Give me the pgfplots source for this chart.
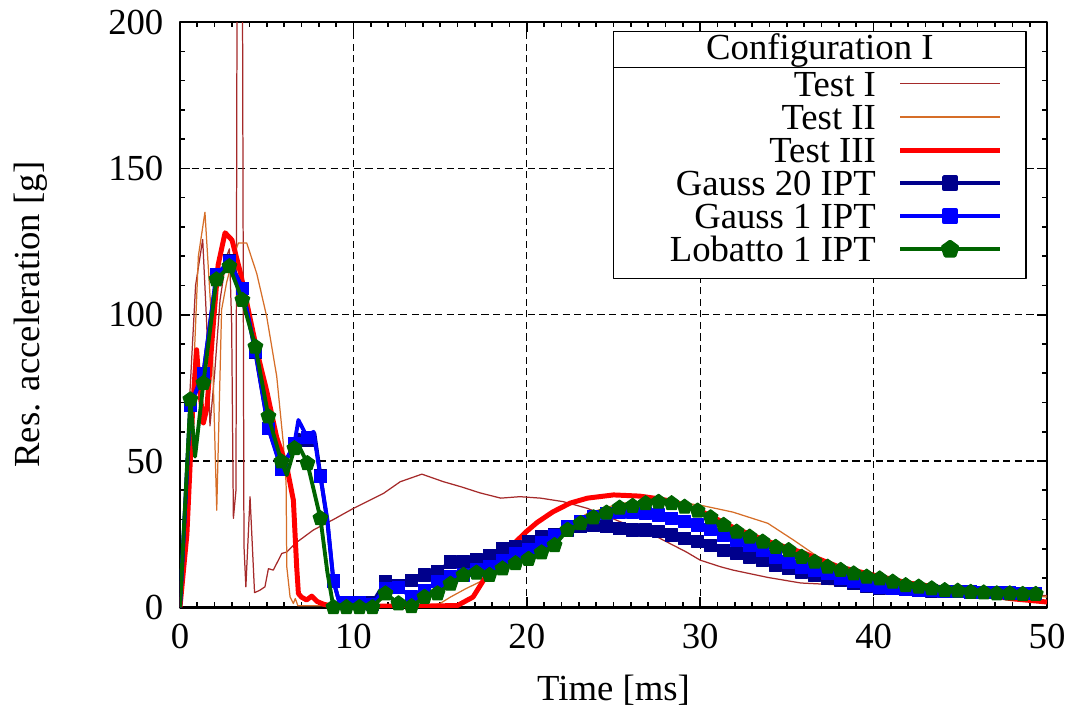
\documentclass[border=0pt]{standalone}
\usepackage{fontspec}
\setmainfont{Liberation Serif}
\usepackage{pgfplots}
\pgfplotsset{compat=1.18}
\usepackage{pgfplotstable}

\definecolor{testone}{RGB}{165,42,42}
\definecolor{testtwo}{RGB}{214,110,40}
\definecolor{gtwenty}{RGB}{0,0,140}
\definecolor{gone}{RGB}{0,0,255}
\definecolor{lob}{RGB}{0,100,0}

\newcommand{\ls}{\rule[-2.3pt]{0pt}{12.8pt}}
\newcommand{\fs}{\fontsize{13.3}{15}\selectfont}

% marker points of the three simulations (one every 0.75 ms)
\pgfplotstableread{
t     g20   g1    lob
0.60  69    69    71
1.35  80    80    76.6
2.10  113   113.7 112
2.85  118.5 118.3 116.5
3.60  109   109   105
4.35  87    87.4  89
5.10  61    61.2  65.2
5.85  48    47    49.8
6.60  55    56    54.3
7.35  57    58    49.2
8.10  45    44.6  30.4
8.85  9     9     0
9.60  1.5   1.5   0
10.35 1.5   1.5   0
11.10 1.5   1     0
11.85 8.7   6.4   4.7
12.60 7.5   6.8   1.3
13.35 9.2   3.5   0.3
14.10 11    5.8   3.5
14.85 12.1  8.7   4.7
15.60 15.5  10.4  8
16.35 15.5  11    11
17.10 16.3  12.7  11.8
17.85 17.8  13.8  11
18.60 20.1  16.1  13.2
19.35 20.6  18.4  15
20.10 22.6  19.8  16.5
20.85 24.1  22    18.7
21.60 24.7  24.5  21.2
22.35 26.4  27.5  26.4
23.10 27.5  29.2  28.7
23.85 28.1  30.9  30.7
24.60 27.5  32.1  32.3
25.35 26.9  32.6  34
26.10 26.4  32.6  34.6
26.85 26.4  32.1  35.5
27.60 25.8  31.5  36
28.35 24.7  30.4  35.5
29.10 23.5  29.2  34.3
29.85 22.4  28.1  33
30.60 21    26.7  30.7
31.35 19.5  24.7  28.1
32.10 18.4  22.9  25.8
32.85 17.2  21.2  24.1
33.60 16.1  19.5  22.4
34.35 14.4  17.2  20.6
35.10 13.2  15.5  19.5
35.85 12.1  13.8  17.2
36.60 11    12.7  15.5
37.35 9.8   11.5  13.8
38.10 9.2   9.8   12.7
38.85 8.1   8.7   11.5
39.60 7.2   7.5   10.4
40.35 6.6   6.8   9.8
41.10 6.3   6.5   8.7
41.85 6.0   6.2   7.5
42.60 5.8   5.9   7
43.35 5.6   5.7   6.4
44.10 5.4   5.5   5.8
44.85 5.3   5.3   5.6
45.60 5.2   5.2   5.2
46.35 5.1   5.1   5.0
47.10 5.0   5.0   4.7
47.85 4.9   4.9   4.7
48.60 4.8   4.8   4.5
49.35 4.8   4.8   4.5
}\marks

\begin{document}
\begin{tikzpicture}
\begin{axis}[
  width=314.1pt, height=212pt, scale only axis,
  xmin=0, xmax=50, ymin=0, ymax=200,
  xtick={0,10,...,50}, ytick={0,50,...,200},
  minor x tick num=9, minor y tick num=4,
  tick align=inside,
  major tick length=3.6pt, minor tick length=1.8pt,
  every tick/.style={black, line width=0.6pt},
  axis line style={line width=1pt},
  grid=major,
  major grid style={black, dash pattern=on 2.6pt off 1.6pt, line width=0.45pt},
  clip mode=individual,
  tick label style={font=\fs},
  /pgf/number format/assume math mode=true,
  yticklabel style={xshift=-2.5pt},
  xticklabel style={yshift=-2.5pt},
  xlabel={Time [ms]},
  ylabel={Res. acceleration [g]},
  every axis x label/.style={at={(axis description cs:0.5,0)}, yshift=-30pt, anchor=center, font=\fs},
  every axis y label/.style={at={(axis description cs:0,0.5)}, xshift=-54pt, rotate=90, anchor=center, font=\fs},
  legend cell align=right,
  legend plot pos=right,
  legend style={draw=none, fill=none, at={(rel axis cs:0.949,0.9238)}, anchor=north east,
    inner sep=0pt, row sep=0pt, column sep=8pt, font=\fs, nodes={inner sep=0pt}},
  legend image code/.code={\draw[mark repeat=2,mark phase=2,#1] plot coordinates {(0pt,0pt)(18pt,0pt)(36pt,0pt)};},
  line join=round,
]
\addplot[testone, line width=0.45pt] coordinates {
(0,0) (0.48,63) (0.9,110) (1.31,125.7) (1.54,97) (1.73,62) (2.0,80) (2.31,105)
(2.69,120) (2.85,122.5) (2.98,97) (3.08,30.4) (3.23,40) (3.43,600) (3.69,21)
(3.8,7) (4.04,37.8) (4.3,5) (4.6,5.8) (4.9,7) (5.1,13.2) (5.38,12.7) (5.58,15)
(5.87,18.4) (6.16,18.9) (6.64,21.8) (7.69,26.4) (8.46,28.8) (8.85,30) (10,33.8)
(11.73,38.9) (12.7,42.9) (13.95,45.5) (15.2,42.9) (16.2,41.2) (17.3,39.1)
(18.5,37.3) (19.6,37.8) (20.8,37.3) (22.1,36.1) (23.5,33.8) (25.4,29.2)
(27.3,24.7) (29.2,18.9) (30,16.1) (31.2,13.8) (31.9,12.7) (33.9,10.2) (35.8,8.3)
(38.5,7.5) (40,7) (42,6.5) (45,5.5) (48,4.5) (50,4)
};
\addlegendentry{\ls Test I}
\addplot[testtwo, line width=0.45pt] coordinates {
(0,0) (0.67,63) (1.06,120) (1.44,135) (1.83,97) (2.12,33.2) (2.4,101.7) (2.69,111)
(3.08,120) (3.37,124.5) (3.85,124.5) (4.43,114) (5.0,99.4) (5.58,78.9) (5.96,56)
(6.12,42.4) (6.16,13.8) (6.35,3.5) (6.54,1.3) (6.65,3) (6.8,0.5) (14.5,0.5)
(15.0,1.3) (15.6,3.5) (16.5,6.4) (17.3,8.7) (18.0,11.5) (19.2,16.1) (19.6,17)
(20.8,20.6) (21.5,24.7) (23.5,32.1) (25.4,35.5) (27.3,36.6) (29.2,35.5) (30,34.9)
(31.2,33.4) (31.9,32.5) (33.9,28.7) (35.4,22.9) (36.8,17.2) (37.7,14.4) (38.5,12.2)
(40,9.5) (42,7.8) (45,6) (48,4.5) (50,3.5)
};
\addlegendentry{\ls Test II}
\addplot[red, line width=1.8pt] coordinates {
(0,0) (0.4,25) (0.75,70) (0.96,88) (1.1,76) (1.35,63) (1.55,68) (1.9,95) (2.2,117)
(2.6,128) (3.0,125.5) (3.5,114) (4.0,100) (4.5,86) (5.0,74) (5.58,58) (6.16,48)
(6.54,36.6) (6.73,13.8) (6.83,4.7) (7.0,3.5) (7.3,2.5) (7.6,3.8) (7.9,2) (8.3,1)
(8.8,0.4) (14,0.4) (16,0.6) (16.9,3.5) (17.5,9.2) (18.3,16) (19.3,22) (20,26)
(20.6,29) (21.5,32.6) (22.5,35.6) (23.5,37.3) (25,38.4) (26.5,38) (27.7,37)
(28.5,36) (30,33) (32,27) (34,22.3) (36,18.5) (38,13.8) (40,11) (42,8.3) (44,6.6)
(46,4.5) (48,2.9) (50,1.8)
};
\addlegendentry{\ls Test III}

% Gauss 20 IPT
\addplot[gtwenty, line width=1.4pt, forget plot] coordinates {
(0,0) (0.6,69) (1.35,80) (2.1,113) (2.85,118.5) (3.6,109) (4.35,87) (5.1,61)
(5.85,48) (6.6,55) (6.85,59) (7.35,57) (7.75,59.5) (8.1,45) (8.5,29) (8.85,9)
(9.2,1.5) (9.6,1.5) (10.35,1.5)
};
\addplot[gtwenty, line width=1.4pt, forget plot, restrict x to domain=10:50] table[x=t,y=g20]{\marks};
\addplot[gtwenty, only marks, mark=square*, mark size=2.2pt, forget plot] table[x=t,y=g20]{\marks};
% Gauss 1 IPT
\addplot[gone, line width=1.4pt, forget plot] coordinates {
(0,0) (0.6,69) (1.35,80) (2.1,113.7) (2.85,118.3) (3.6,109) (4.35,87.4) (5.1,61.2)
(5.85,47) (6.6,56) (6.83,64) (7.35,58) (7.7,60) (8.1,44.6) (8.5,30) (8.85,9)
(9.2,1.5) (9.6,1.5) (10.35,1.5)
};
\addplot[gone, line width=1.4pt, forget plot, restrict x to domain=10:50] table[x=t,y=g1]{\marks};
\addplot[gone, only marks, mark=square*, mark size=2.2pt, forget plot] table[x=t,y=g1]{\marks};
% Lobatto 1 IPT
\addplot[lob, line width=1.4pt, forget plot] coordinates {
(0,0) (0.6,71) (0.87,51.5) (1.35,76.6) (2.1,112) (2.85,116.5) (3.6,105) (4.35,89)
(5.1,65.2) (5.85,49.8) (6.16,45.2) (6.6,54.3) (6.83,55.5) (7.35,49.2) (8.1,30.4)
(8.5,12) (8.85,0) (9.6,0) (10.35,0)
};
\addplot[lob, line width=1.4pt, forget plot, restrict x to domain=10:50] table[x=t,y=lob]{\marks};
\addplot[lob, only marks, mark=pentagon*, mark size=2.8pt, forget plot] table[x=t,y=lob]{\marks};

\addlegendimage{gtwenty, line width=1.4pt, mark=square*, mark size=2.2pt}
\addlegendentry{\ls Gauss 20 IPT}
\addlegendimage{gone, line width=1.4pt, mark=square*, mark size=2.2pt}
\addlegendentry{\ls Gauss 1 IPT}
\addlegendimage{lob, line width=1.4pt, mark=pentagon*, mark size=2.8pt}
\addlegendentry{\ls Lobatto 1 IPT}

% legend frame with its title
\draw[black, line width=0.5pt, fill=white] (rel axis cs:0.4998,0.5619) rectangle (rel axis cs:0.9758,0.9834);
\draw[black, line width=0.5pt] (rel axis cs:0.4998,0.9219) -- (rel axis cs:0.9758,0.9219);
\node[font=\fs, inner sep=0pt] at (rel axis cs:0.738,0.952) {Configuration I};
\end{axis}
\pgfresetboundingbox
\path[use as bounding box] ([shift={(-65.2pt,-41.3pt)}]current axis.south west) rectangle ([shift={(10.5pt,8pt)}]current axis.north east);
\end{tikzpicture}
\end{document}
